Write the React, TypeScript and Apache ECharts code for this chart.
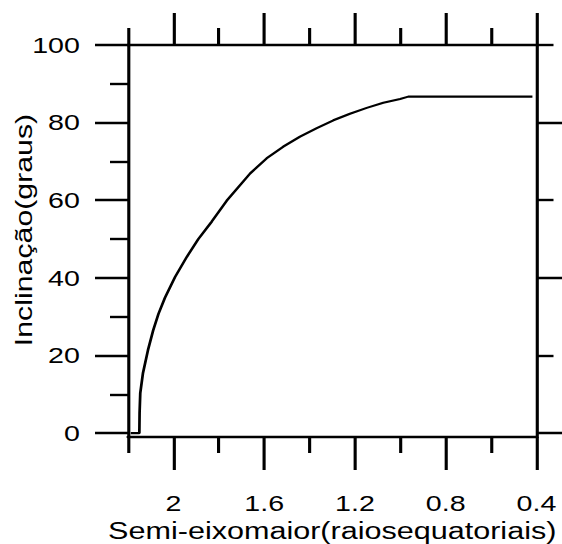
import React, { useEffect, useRef } from "react";
import * as echarts from "echarts";

// ---- data ----
const semiMajorAxis = [
  2.188, 2.15, 2.149, 2.146, 2.134, 2.112, 2.089, 2.066, 2.037, 1.993, 1.941,
  1.89, 1.831, 1.765, 1.662, 1.589, 1.516, 1.442, 1.368, 1.295, 1.222, 1.148,
  1.075, 1.001, 0.965, 0.418,
];
const inclination = [
  0, 0, 5.2, 10.3, 15.5, 21.4, 26.5, 30.7, 34.9, 40.2, 45.4, 50.0, 54.5, 59.9,
  66.9, 70.8, 73.8, 76.4, 78.6, 80.6, 82.3, 83.8, 85.1, 86.1, 86.7, 86.7,
];
const xMajorTicks = [2, 1.6, 1.2, 0.8, 0.4];
const xMinorTicks = [2.2, 1.8, 1.4, 1.0, 0.6];
const yMajorTicks = [0, 20, 40, 60, 80, 100];
const yMinorTicks = [10, 30, 50, 70, 90];
const yRightLongTicks = [0, 40, 80];
const yRightShortTicks = [20, 60, 100];
const xAxisTitle = "Semi-eixomaior(raiosequatoriais)";
const yAxisTitle = "Inclinação(graus)";

const X_MIN = 0.4;
const X_MAX = 2.2;
const Y_MIN = -1;
const Y_MAX = 100;

// the reference text is horizontally extended; reproduce with a stretch
const INNER_W = 432;
const H = 544;
const S = 562 / INNER_W;

const FONT = "'Liberation Sans', Arial, sans-serif";
const LW = 2.4;

export default function App() {
  const ref = useRef<HTMLDivElement>(null);

  useEffect(() => {
    if (!ref.current) return;
    const chart = echarts.init(ref.current, null, {
      renderer: "svg",
      width: INNER_W,
      height: H,
    });

    const lineStyle = { color: "#000", width: LW };

    const xAxisBase = (
      position: "top" | "bottom",
      ticks: number[],
      len: number,
      showLine: boolean,
      showLabel: boolean
    ) => ({
      type: "value",
      position,
      min: X_MIN,
      max: X_MAX,
      inverse: true,
      splitLine: { show: false },
      axisLine: { show: showLine, onZero: false, lineStyle },
      axisTick: {
        show: true,
        inside: false,
        length: len,
        customValues: ticks,
        lineStyle,
      },
      axisLabel: {
        show: showLabel,
        customValues: ticks,
        margin: 55,
        color: "#000",
        fontSize: 22,
        fontFamily: FONT,
        formatter: (v: number) => String(+Number(v).toFixed(1)),
      },
    });

    const yAxisBase = (
      position: "left" | "right",
      ticks: number[],
      len: number,
      showLine: boolean,
      showLabel: boolean
    ) => ({
      type: "value",
      position,
      min: Y_MIN,
      max: Y_MAX,
      splitLine: { show: false },
      axisLine: { show: showLine, onZero: false, lineStyle },
      axisTick: {
        show: true,
        inside: false,
        length: len,
        customValues: ticks,
        lineStyle,
      },
      axisLabel: {
        show: showLabel,
        customValues: ticks,
        margin: 37,
        color: "#000",
        fontSize: 22,
        fontFamily: FONT,
      },
    });

    const xMain: any = xAxisBase("bottom", xMajorTicks, 33, true, true);
    xMain.name = xAxisTitle;
    xMain.nameLocation = "middle";
    xMain.nameGap = 80;
    xMain.nameTextStyle = { color: "#000", fontSize: 23.5, fontFamily: FONT };

    const data = semiMajorAxis.map((x, i) => [x, inclination[i]]);

    chart.setOption({
      animation: false,
      backgroundColor: "#fff",
      grid: {
        left: 98.4,
        right: INNER_W - 412.4,
        top: 45,
        bottom: H - 437,
        containLabel: false,
        outerBoundsMode: "none",
      },
      xAxis: [
        xMain,
        xAxisBase("bottom", xMinorTicks, 16, false, false),
        xAxisBase("top", xMajorTicks, 32, true, false),
        xAxisBase("top", xMinorTicks, 17, false, false),
      ],
      yAxis: [
        yAxisBase("left", yMajorTicks, 33 / S, true, true),
        yAxisBase("left", yMinorTicks, 18 / S, false, false),
        yAxisBase("right", yRightLongTicks, 33 / S, true, false),
        yAxisBase("right", yRightShortTicks, 17 / S, false, false),
      ],
      graphic: [
        {
          type: "text",
          x: 24 / S,
          y: 230,
          rotation: Math.PI / 2,
          scaleX: 1.29,
          scaleY: 1 / S,
          style: {
            text: yAxisTitle,
            fill: "#000",
            fontSize: 23.5,
            fontFamily: FONT,
            align: "center",
            verticalAlign: "middle",
          },
        },
      ],
      series: [
        {
          type: "line",
          xAxisIndex: 0,
          yAxisIndex: 0,
          data,
          showSymbol: false,
          symbol: "none",
          lineStyle: { color: "#000", width: 2.1 },
          clip: false,
        },
      ],
    });

    return () => chart.dispose();
  }, []);

  return (
    <div
      style={{
        position: "absolute",
        left: 0,
        top: 0,
        width: 562,
        height: H,
        overflow: "hidden",
        background: "#fff",
      }}
    >
      <div
        ref={ref}
        style={{
          width: INNER_W,
          height: H,
          transform: `scaleX(${S})`,
          transformOrigin: "0 0",
        }}
      />
    </div>
  );
}
